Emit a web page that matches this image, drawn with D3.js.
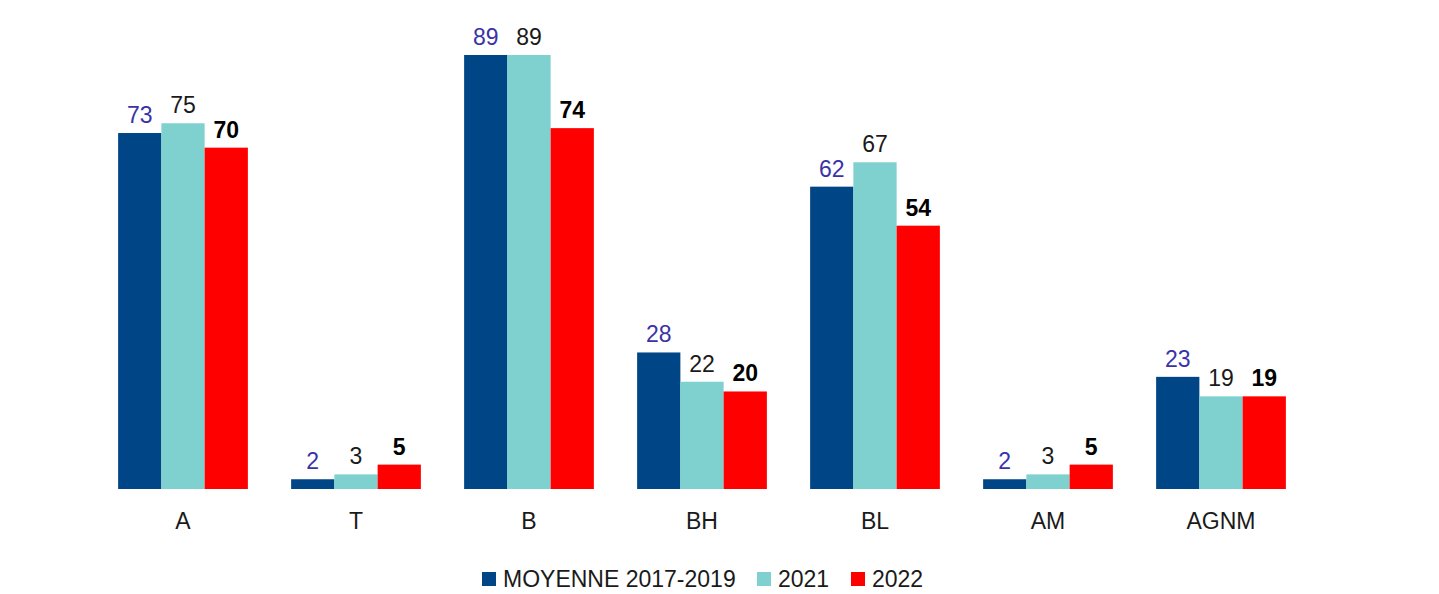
<!DOCTYPE html>
<html><head><meta charset="utf-8">
<script src="https://cdn.jsdelivr.net/npm/d3@7"></script>
<style>body{margin:0;background:#fff;} svg{display:block;font-family:"Liberation Sans",Arial,sans-serif;}</style>
</head><body>
<svg id="c" width="1439" height="594"></svg>
<script>
const categories = ["A","T","B","BH","BL","AM","AGNM"];
const seriesNames = ["MOYENNE 2017-2019","2021","2022"];
const moyenne = [73,2,89,28,62,2,23];
const y2021 = [75,3,89,22,67,3,19];
const y2022 = [70,5,74,20,54,5,19];
const seriesValues = [moyenne, y2021, y2022];
const colors = ["#004586","#7fd1d0","#ff0000"];
const labelColors = ["#3a33a8","#1a1a1a","#000000"];
const labelWeights = ["normal","normal","bold"];

const svg = d3.select("#c");
const x0 = d3.scaleBand().domain(categories).range([96.5,1307.5]).paddingInner(0.25).paddingOuter(0.125);
const x1 = d3.scaleBand().domain(d3.range(3)).range([0,x0.bandwidth()]);
const y = d3.scaleLinear().domain([0,89]).range([489,55]);

const g = svg.append("g");
categories.forEach((c,i)=>{
  seriesValues.forEach((vals,s)=>{
    g.append("rect").attr("x",x0(c)+x1(s)).attr("y",y(vals[i]))
      .attr("width",x1.bandwidth()).attr("height",y(0)-y(vals[i])).attr("fill",colors[s]);
    g.append("text").attr("x",x0(c)+x1(s)+x1.bandwidth()/2).attr("y",y(vals[i])-10)
      .attr("text-anchor","middle").attr("font-size",23).attr("fill",labelColors[s])
      .attr("font-weight",labelWeights[s]).text(vals[i]);
  });
});
const xAxis = svg.append("g").attr("transform","translate(0,489)").call(d3.axisBottom(x0).tickSize(0).tickPadding(24));
xAxis.select(".domain").remove();
xAxis.selectAll("text").attr("font-size",23).attr("fill","#1a1a1a").attr("font-family","Liberation Sans, Arial, sans-serif");

const leg = svg.append("g");
const legX = [482,757,851];
seriesNames.forEach((n,s)=>{
  leg.append("rect").attr("x",legX[s]).attr("y",572).attr("width",14).attr("height",14).attr("fill",colors[s]);
  leg.append("text").attr("x",legX[s]+21).attr("y",587).attr("font-size",23).attr("fill","#1a1a1a").text(n);
});
</script>
</body></html>
